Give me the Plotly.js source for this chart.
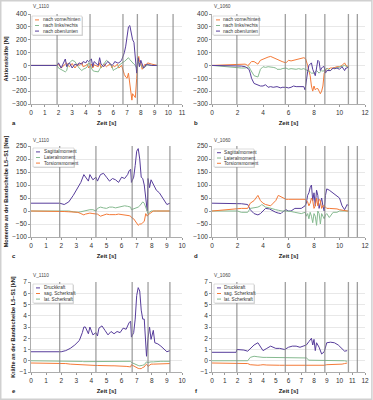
<!DOCTYPE html>
<html><head><meta charset="utf-8">
<script src="https://cdn.plot.ly/plotly-3.0.1.min.js"></script>
<style>html,body{margin:0;padding:0;background:#fff}#chart{width:373px;height:400px}</style>
</head><body><div id="chart"></div>
<script>
// ---------- Data ----------
// Panel a: Aktionskräfte V_1110 [N]
const aT = [0,1.9,2.0,2.2,2.5,2.6,2.7,2.8,3.0,3.2,3.4,3.5,3.7,3.8,4.0,4.1,4.2,4.3,4.4,4.5,4.6,4.9,5.0,5.1,5.2,5.3,5.5,5.6,5.8,5.9,6.0,6.1,6.3,6.4,6.6,6.7,6.8,6.9,7.0,7.1,7.2,7.3,7.35,7.4,7.5,7.6,7.7,7.75,7.8,7.85,7.9,8.0,8.1,8.2,8.3,8.4,8.5,8.8,9.2];
const aVorne = [0,0,10,-20,10,20,0,-10,15,-20,10,0,20,-10,0,10,-20,0,10,-20,5,-10,20,-20,0,10,-10,0,10,-20,0,-10,10,-20,0,-40,-70,-90,-100,-60,-150,-230,-270,-220,-240,-250,-100,0,40,70,30,20,-30,-10,10,0,20,10,0];
const aLinks = [0,0,-20,-30,-50,-40,10,20,40,30,-10,-20,-40,-30,-20,-10,20,10,-20,-40,-45,-50,-30,-10,0,10,40,30,10,-10,-40,-30,-20,0,20,25,30,40,50,60,45,30,25,20,10,0,-20,-10,30,20,10,0,-10,-20,-10,0,5,0,0];
const aOben = [0,0,20,-20,50,-10,10,20,-20,10,0,20,10,30,20,40,30,45,50,-10,30,0,60,10,0,-10,20,30,10,0,10,30,20,20,40,70,100,150,230,300,310,250,220,200,180,60,-60,20,60,30,-10,40,0,-20,-10,10,5,0,0];
// Panel b: Aktionskräfte V_1060 [N]
const bT = [0,2.0,2.3,2.6,2.8,2.9,3.0,3.1,3.3,3.6,3.8,4.0,4.2,4.4,4.6,4.8,5.0,5.1,5.4,5.5,5.8,6.0,6.2,6.4,6.6,6.8,7.0,7.2,7.3,7.35,7.5,7.6,7.7,7.8,7.9,8.0,8.1,8.2,8.3,8.4,8.5,8.6,8.7,8.8,8.9,9.0,9.1,9.3,9.5,9.6,9.8,10.0,10.2,10.4,10.5,10.6,10.7];
const bVorne = [0,10,10,10,0,5,20,30,30,10,40,50,60,65,70,60,50,45,30,30,20,40,35,40,40,50,50,60,55,50,0,-40,-80,-160,-200,-160,-190,-180,-180,-200,-220,-200,-160,-60,-40,-20,-30,-20,-20,-15,-10,-10,0,20,0,-5,-10];
const bLinks = [0,-20,-20,-20,-15,-10,-30,-50,-80,-90,-30,-10,-15,-10,-10,-15,-20,-30,-30,-25,-20,-30,-25,-30,-30,-25,-30,-25,-30,-30,-40,-40,-50,-60,-60,-60,-50,-40,-50,-60,-50,-40,-45,-40,-35,-20,-30,-40,-20,-25,-20,-10,-5,0,-5,-15,-20];
const bOben = [0,0,-5,-10,-20,-30,-60,-100,-140,-150,-160,-160,-150,-170,-165,-170,-170,-165,-175,-170,-170,-175,-170,-160,-165,-165,-160,-165,-190,-150,-50,0,10,20,-30,-60,-80,-20,40,30,-40,-20,-10,-10,-60,-40,-40,-40,-20,-25,-20,-30,-10,-40,-20,-20,-10];
// Panel c: Momente V_1110 [Nm]
const cT = [0,1.9,2.2,2.5,2.8,3.1,3.3,3.5,3.6,3.8,3.9,4.1,4.3,4.4,4.6,4.8,5.0,5.2,5.4,5.6,5.8,6.0,6.2,6.4,6.5,6.6,6.65,6.8,6.9,7.0,7.1,7.2,7.3,7.4,7.5,7.6,7.7,7.75,7.85,7.95,8.1,8.3,8.5,8.8,9.0,9.2];
const cSag = [30,30,25,35,60,90,110,140,130,115,140,120,130,115,140,145,130,115,125,120,110,130,125,140,155,160,110,130,175,230,240,200,130,125,100,50,0,125,90,120,100,80,70,40,25,30];
const cLat = [0,0,0,0,-3,-5,-3,0,2,5,5,5,0,10,15,12,10,15,15,12,15,18,20,18,15,15,5,8,10,12,15,20,30,35,30,10,0,-10,-5,0,0,0,0,0,0,0];
const cTor = [0,0,-2,-3,-4,-5,-10,-15,-12,-10,-8,-10,-10,-12,-20,-15,-12,-14,-15,-14,-12,-13,-15,-16,-18,-20,-25,-30,-40,-50,-55,-50,-50,-45,-40,-10,-20,-15,-10,-5,0,0,0,0,0,0];
// Panel d: Momente V_1060 [Nm]
const dT = [0,2.0,2.3,2.8,3.0,3.3,3.6,3.8,3.9,4.0,4.2,4.5,4.6,4.8,5.0,5.2,5.4,5.5,5.8,6.0,6.2,6.5,7.0,7.3,7.4,7.5,7.6,7.7,7.8,7.9,8.0,8.1,8.2,8.3,8.4,8.5,8.6,8.7,8.8,8.9,9.0,9.2,9.5,9.8,10.0,10.2,10.4,10.6,10.7];
const dSag = [30,30,28,25,5,-10,-15,-10,-5,0,10,8,5,0,-5,-8,-10,-5,5,0,0,10,10,20,30,60,70,90,100,40,70,20,80,60,10,30,50,20,0,60,85,80,70,60,50,20,5,25,20];
const dLat = [0,0,-5,-5,10,12,15,20,25,22,15,12,10,8,5,3,0,0,0,0,-2,-5,-10,-5,-20,-10,-30,-5,-20,-45,-10,-20,-55,0,-10,-50,-10,-20,-30,-15,-10,-25,-5,-5,0,0,0,0,0];
const dTor = [0,10,10,10,30,40,60,40,35,30,25,20,20,30,40,60,55,50,45,45,45,45,45,45,40,35,20,30,50,40,10,20,50,20,45,40,10,20,20,15,10,10,10,8,5,3,0,0,0];
// Panel e: Kräfte V_1110 [kN]
const eT = [0,1.9,2.0,2.3,2.6,2.9,3.2,3.4,3.5,3.6,3.8,3.9,4.1,4.3,4.4,4.5,4.7,4.9,5.1,5.3,5.5,5.7,5.9,6.1,6.3,6.5,6.6,6.65,6.8,6.9,7.0,7.1,7.2,7.3,7.4,7.5,7.6,7.65,7.75,7.85,7.95,8.1,8.2,8.4,8.6,8.8,9.0,9.2];
const eDruck = [0.8,0.8,0.8,0.9,1.1,1.4,1.8,2.5,3.0,3.0,2.4,3.0,2.3,2.5,2.2,2.9,3.1,2.7,2.3,2.6,2.4,2.6,2.5,2.9,2.8,3.4,3.5,2.1,2.5,3.7,5.8,6.5,6.2,4.5,3.7,3.7,1.5,0.4,2.0,3.0,1.9,2.7,1.6,1.5,1.3,1.0,0.8,0.9];
const eSag = [-0.2,-0.2,-0.2,-0.25,-0.3,-0.33,-0.35,-0.38,-0.4,-0.4,-0.4,-0.4,-0.4,-0.42,-0.42,-0.43,-0.45,-0.45,-0.45,-0.45,-0.45,-0.45,-0.45,-0.47,-0.5,-0.53,-0.55,-0.35,-0.45,-0.55,-0.65,-0.68,-0.7,-0.7,-0.6,-0.55,-0.35,-0.3,-0.5,-0.4,-0.3,-0.3,-0.3,-0.3,-0.28,-0.26,-0.25,-0.25];
const eLat = [0,0,0,-0.02,-0.03,-0.05,-0.05,-0.06,-0.08,-0.08,-0.1,-0.1,-0.1,-0.1,-0.1,-0.1,-0.1,-0.1,-0.1,-0.1,-0.1,-0.1,-0.1,-0.1,-0.08,-0.06,-0.05,-0.15,-0.25,-0.3,-0.4,-0.42,-0.45,-0.45,-0.4,-0.35,-0.2,-0.1,-0.15,-0.1,-0.1,-0.1,-0.08,-0.06,-0.05,-0.05,-0.05,-0.05];
// Panel f: Kräfte V_1060 [kN]
const fT = [0,1.9,1.95,2.2,2.5,2.8,3.0,3.3,3.6,3.8,4.0,4.3,4.6,5.0,5.3,5.7,6.0,6.3,6.6,6.9,7.2,7.4,7.6,7.8,7.9,8.0,8.1,8.2,8.4,8.6,8.8,9.0,9.3,9.6,9.9,10.2,10.4,10.6];
const fDruck = [0.75,0.75,1.0,1.0,0.95,0.85,1.1,1.4,1.6,1.2,0.9,1.1,1.3,1.1,1.1,1.0,1.2,1.3,1.3,1.2,1.3,1.4,1.7,2.0,1.4,1.9,0.9,1.6,1.2,0.6,0.8,1.6,1.65,1.6,1.4,1.1,0.85,0.9];
const fSag = [-0.2,-0.2,-0.2,-0.22,-0.24,-0.25,-0.35,-0.4,-0.4,-0.38,-0.35,-0.38,-0.4,-0.4,-0.4,-0.4,-0.4,-0.4,-0.4,-0.4,-0.4,-0.4,-0.42,-0.45,-0.45,-0.45,-0.45,-0.45,-0.45,-0.45,-0.4,-0.35,-0.35,-0.35,-0.3,-0.3,-0.25,-0.2];
const fLat = [0,0,0,0,0,0,0.3,0.4,0.35,0.3,0.3,0.3,0.3,0.3,0.3,0.3,0.3,0.3,0.3,0.3,0.3,0.25,0.05,0.05,0.0,0.0,0.05,0.0,0.0,0.0,0.0,0.0,0.0,0.0,0.0,0.0,0.0,-0.05];
// Event markers (time points, s)
const events1110 = [1.9,4.3,6.7,7.75,9.2,10.35];
const events1060 = [1.95,5.75,7.35,8.85,10.7,11.4];
// Labels
const forceNames = ['nach vorne/hinten','nach links/rechts','nach oben/unten'];
const momentNames = ['Sagittalmoment','Lateralmoment','Torsionsmoment'];
const spineNames = ['Druckkraft','sag. Scherkraft','lat. Scherkraft'];
const trialNames = ['V_1110','V_1060'];
const panelLetters = ['a','b','c','d','e','f'];

// ---------- Styles ----------
const ORANGE = '#f47a38', GREEN = '#86ba90', PURPLE = '#573d9b';
const FONT = 'Liberation Sans, Arial, sans-serif';
const W = 373, H = 400;
const px = v => v / W, py = v => 1 - v / H;

function tr(x, y, name, color, ax) {
  return {x: x, y: y, name: name, type: 'scatter', mode: 'lines',
    line: {color: color, width: 1}, xaxis: 'x' + ax, yaxis: 'y' + ax,
    showlegend: false, hoverinfo: 'skip'};
}
const panels = [
  {ax: '', t: aT, series: [[aVorne, forceNames[0], ORANGE], [aLinks, forceNames[1], GREEN], [aOben, forceNames[2], PURPLE]], box: [32, 82, 16, 35]},
  {ax: '2', t: bT, series: [[bVorne, forceNames[0], ORANGE], [bLinks, forceNames[1], GREEN], [bOben, forceNames[2], PURPLE]], box: [213, 259, 16, 35]},
  {ax: '3', t: cT, series: [[cSag, momentNames[0], PURPLE], [cLat, momentNames[1], GREEN], [cTor, momentNames[2], ORANGE]], box: [33, 74, 148, 167]},
  {ax: '4', t: dT, series: [[dSag, momentNames[0], PURPLE], [dLat, momentNames[1], GREEN], [dTor, momentNames[2], ORANGE]], box: [214, 254, 149, 167]},
  {ax: '5', t: eT, series: [[eDruck, spineNames[0], PURPLE], [eSag, spineNames[1], ORANGE], [eLat, spineNames[2], GREEN]], box: [33, 73, 284, 303]},
  {ax: '6', t: fT, series: [[fDruck, spineNames[0], PURPLE], [fSag, spineNames[1], ORANGE], [fLat, spineNames[2], GREEN]], box: [214, 254, 284, 303]}
];
const data = [];
panels.forEach(p => p.series.forEach(s => data.push(tr(p.t, s[0], s[1], s[2], p.ax))));

const leftX = [px(31), px(182)], rightX = [px(212), px(365)];
const rows = [[py(104), py(14)], [py(237), py(146)], [py(372), py(282)]];
const tickFont = {family: FONT, size: 6.5, color: '#333'};
function xax(dom, range, dtick, anchor) {
  return {domain: dom, range: range, dtick: dtick, anchor: anchor, showgrid: false,
    zeroline: false, showline: true, linecolor: '#999', linewidth: 0.8, ticks: 'outside',
    ticklen: 2, tickcolor: '#999', tickfont: tickFont, fixedrange: true,
    title: {text: 'Zeit [s]', font: {family: FONT, size: 6, color: '#222', weight: 'bold'}, standoff: 6}};
}
function yax(dom, range, dtick, anchor, title) {
  return {domain: dom, range: range, dtick: dtick, anchor: anchor, showgrid: true,
    gridcolor: '#e2e2e2', gridwidth: 0.8, zeroline: false, showline: true, linecolor: '#999',
    linewidth: 0.8, ticks: 'outside', ticklen: 2, tickcolor: '#999', tickfont: tickFont,
    fixedrange: true,
    title: {text: title, font: {family: FONT, size: 5.6, color: '#222', weight: 'bold'}, standoff: 3}};
}

const layout = {
  width: W, height: H, margin: {l: 0, r: 0, t: 0, b: 0},
  paper_bgcolor: '#ffffff', plot_bgcolor: '#ffffff', showlegend: false,
  font: {family: FONT},
  xaxis: xax(leftX, [0, 11], 1, 'y'),
  yaxis: yax(rows[0], [-300, 400], 100, 'x', 'Aktionskräfte [N]'),
  xaxis2: xax(rightX, [0, 12], 2, 'y2'),
  yaxis2: yax(rows[0], [-300, 400], 100, 'x2', ''),
  xaxis3: xax(leftX, [0, 10], 1, 'y3'),
  yaxis3: yax(rows[1], [-100, 250], 50, 'x3', 'Momente an der Bandscheibe L5–S1 [Nm]'),
  xaxis4: xax(rightX, [0, 12], 2, 'y4'),
  yaxis4: yax(rows[1], [-100, 250], 50, 'x4', ''),
  xaxis5: xax(leftX, [0, 10], 1, 'y5'),
  yaxis5: yax(rows[2], [-1, 7], 1, 'x5', 'Kräfte an der Bandscheibe L5–S1 [kN]'),
  xaxis6: xax(rightX, [0, 12], 1, 'y6'),
  yaxis6: yax(rows[2], [-1, 7], 1, 'x6', ''),
  shapes: [], annotations: []
};

// event lines
function addEvents(events, axis, ymin, ymax, xmax) {
  events.forEach(t => {
    if (t <= xmax) layout.shapes.push({type: 'line', xref: 'x' + axis, yref: 'y' + axis,
      x0: t, x1: t, y0: ymin, y1: ymax, line: {color: 'rgba(135,135,135,0.8)', width: 1.3}, layer: 'above'});
  });
}
addEvents(events1110, '', -300, 400, 11);
addEvents(events1060, '2', -300, 400, 12);
addEvents(events1110, '3', -100, 250, 10);
addEvents(events1060, '4', -100, 250, 12);
addEvents(events1110, '5', -1, 7, 10);
addEvents(events1060, '6', -1, 7, 12);

// legends (drawn in paper space, above the event lines)
panels.forEach(p => {
  const [x0, x1, y0, y1] = p.box;
  layout.shapes.push({type: 'rect', xref: 'paper', yref: 'paper', x0: px(x0 + 1), x1: px(x1 + 1), y0: py(y1 + 1), y1: py(y0 + 1),
    line: {width: 0}, fillcolor: 'rgba(0,0,0,0.15)', layer: 'above'});
  layout.shapes.push({type: 'rect', xref: 'paper', yref: 'paper', x0: px(x0), x1: px(x1), y0: py(y1), y1: py(y0),
    line: {color: '#c8c8c8', width: 0.6}, fillcolor: '#ffffff', layer: 'above'});
  const step = (y1 - y0) / 3.4;
  p.series.forEach((s, k) => {
    const yy = y0 + step * (0.7 + k * 1);
    layout.shapes.push({type: 'line', xref: 'paper', yref: 'paper', x0: px(x0 + 3), x1: px(x0 + 7), y0: py(yy), y1: py(yy),
      line: {color: s[2], width: 1}, layer: 'above'});
    layout.annotations.push({xref: 'paper', yref: 'paper', x: px(x0 + 8.5), y: py(yy), xanchor: 'left', yanchor: 'middle',
      text: s[1], showarrow: false, font: {family: FONT, size: 4.7, color: '#333'}});
  });
});

// frame
layout.shapes.push({type: 'rect', xref: 'paper', yref: 'paper', x0: 0.002, x1: 0.997, y0: 0.002, y1: 0.998,
  line: {color: '#d0d0d0', width: 1.5}, layer: 'below'});

// trial names and panel letters
const trialPos = [[31, 7], [212, 7], [31, 140], [212, 140], [31, 275], [212, 275]];
trialPos.forEach((p, i) => {
  layout.annotations.push({xref: 'paper', yref: 'paper', x: px(p[0]), y: py(p[1]), xanchor: 'left', yanchor: 'middle',
    text: trialNames[i % 2], showarrow: false, font: {family: FONT, size: 4.8, color: '#444'}});
});
const letterPos = [[14, 123], [196, 123], [14, 256], [196, 256], [14, 391], [196, 391]];
letterPos.forEach((p, i) => {
  layout.annotations.push({xref: 'paper', yref: 'paper', x: px(p[0]), y: py(p[1]), xanchor: 'center', yanchor: 'middle',
    text: '<b>' + panelLetters[i] + '</b>', showarrow: false, font: {family: FONT, size: 6, color: '#222'}});
});

Plotly.newPlot('chart', data, layout, {staticPlot: true, displayModeBar: false});
</script></body></html>
